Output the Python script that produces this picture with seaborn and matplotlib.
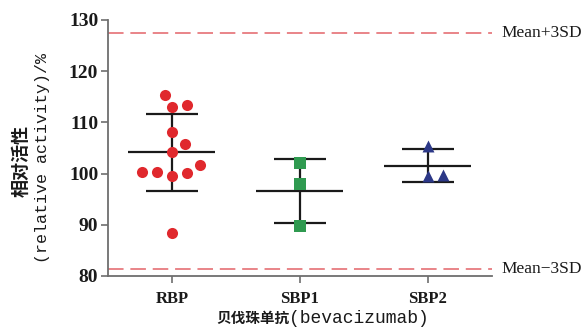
import matplotlib
matplotlib.use("Agg")
import matplotlib.pyplot as plt
import numpy as np
import pandas as pd
import seaborn as sns

# values
groups = ["RBP", "SBP1", "SBP2"]
rbp = [115.4, 112.9, 113.3, 108.1, 105.8, 104.2, 101.7, 100.25, 100.1, 99.5, 100.2, 88.4]
sbp1 = [102.1, 97.9, 89.7]
sbp2 = [105.3, 99.6, 99.7]
upper_limit = 127.5
lower_limit = 81.4
limit_labels = ["Mean+3SD", "Mean\u22123SD"]

colors = {"RBP": "#e0282d", "SBP1": "#2f9a50", "SBP2": "#2c3887"}
markers = {"RBP": "o", "SBP1": "s", "SBP2": "^"}
marker_sizes = {"RBP": 8, "SBP1": 8, "SBP2": 8.6}

df = pd.DataFrame({
    "group": ["RBP"] * len(rbp) + ["SBP1"] * len(sbp1) + ["SBP2"] * len(sbp2),
    "value": rbp + sbp1 + sbp2,
})

sns.set_style("ticks")
plt.rcParams["font.family"] = ["Liberation Serif", "DejaVu Sans"]

fig = plt.figure(figsize=(5.87, 3.32), dpi=100)
ax = fig.add_axes([0.184, 0.169, 0.654, 0.771])

for g in groups:
    sns.swarmplot(
        data=df[df["group"] == g], x="group", y="value", order=groups,
        color=colors[g], marker=markers[g], size=10.5, linewidth=0, ax=ax
    )

ax.set_xlim(-0.5, 2.5)
ax.set_ylim(80, 130)

# let seaborn lay out a loose swarm, then freeze it, mirror it and shrink the dots
fig.canvas.draw()
for coll in list(ax.collections):
    xy = coll.get_offsets()
    if len(xy) == 0:
        continue
    if "draw" in vars(coll):
        del coll.draw
    i = int(round(float(np.median(xy[:, 0]))))
    xy = np.array(xy)
    xy[:, 0] = 2 * i - xy[:, 0]
    coll.set_offsets(xy)
    coll.set_sizes([marker_sizes[groups[i]] ** 2])
    coll.set_zorder(3)

# mean and SD bars
line_kw = dict(color="#1a1a1a", lw=1.6, zorder=2)
for i, g in enumerate(groups):
    vals = df.loc[df["group"] == g, "value"].to_numpy()
    m, s = vals.mean(), vals.std(ddof=1)
    ax.hlines(m, i - 0.34, i + 0.34, **line_kw)
    ax.hlines([m - s, m + s], i - 0.2, i + 0.2, **line_kw)
    ax.vlines(i, m - s, m + s, **line_kw)

# mean +/- 3SD reference lines
for y, lab in zip([upper_limit, lower_limit], limit_labels):
    ax.axhline(y, color="#e98488", lw=1.4, dashes=(8, 3.5), zorder=1)
    ax.text(1.025, y, lab, transform=ax.get_yaxis_transform(),
            ha="left", va="center", fontsize=12.5, color="#1a1a1a")

ax.spines[["top", "right"]].set_visible(False)
for side in ["left", "bottom"]:
    ax.spines[side].set_color("#6e6e6e")
    ax.spines[side].set_linewidth(1.3)

ax.set_yticks(np.arange(80, 131, 10))
ax.tick_params(color="#6e6e6e", width=1.2, length=5, direction="out")
ax.tick_params(axis="y", labelsize=14, pad=2)
ax.tick_params(axis="x", labelsize=12, pad=6)
for lab in ax.get_xticklabels() + ax.get_yticklabels():
    lab.set_fontweight("bold")
    lab.set_color("#1a1a1a")

ax.set_xlabel("")
ax.set_ylabel("")

# axis titles: CJK part and Latin part in separate fonts
fig.text(21 / 587, 0.515, "相对活性", rotation=90, ha="center", va="center",
         family="Noto Sans CJK SC", weight="bold", size=13, color="#1a1a1a")
fig.text(43 / 587, 0.524, "(relative activity)/%", rotation=90, ha="center",
         va="center", family="Liberation Mono", size=12, color="#1a1a1a")
fig.text(289 / 587, 0.028, "贝伐珠单抗", ha="right", va="baseline",
         family="Noto Sans CJK SC", weight="bold", size=10.5, color="#1a1a1a")
fig.text(289 / 587, 0.028, "(bevacizumab)", ha="left", va="baseline",
         family="Liberation Mono", size=13, color="#1a1a1a")

fig.savefig("out.png", dpi=100)
